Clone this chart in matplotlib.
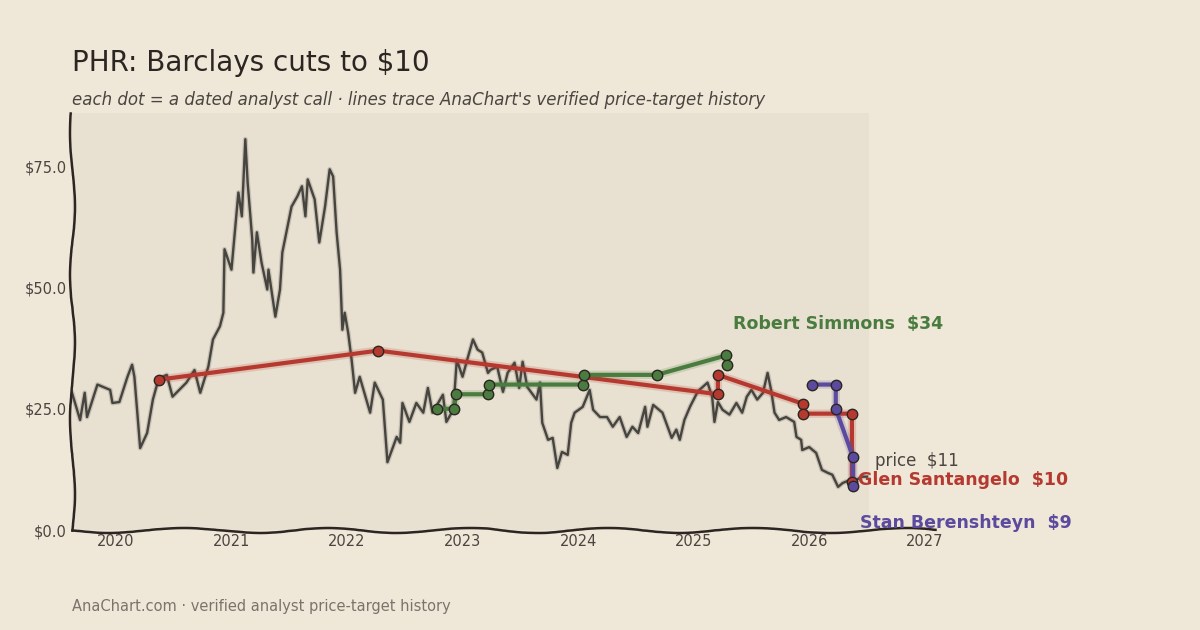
import matplotlib
matplotlib.use("Agg")
import matplotlib.pyplot as plt
import matplotlib.patheffects as pe

# share price (decimal year, $)
price_dates = [
    2019.62, 2019.69, 2019.73, 2019.75, 2019.84, 2019.95, 2019.97, 2020.03, 2020.10, 2020.14,
    2020.16, 2020.21, 2020.27, 2020.32, 2020.37, 2020.44, 2020.49, 2020.61, 2020.68, 2020.73,
    2020.80, 2020.84, 2020.90, 2020.93, 2020.94, 2021.00, 2021.06, 2021.09, 2021.12, 2021.14,
    2021.18, 2021.19, 2021.22, 2021.26, 2021.31, 2021.32, 2021.38, 2021.42, 2021.44, 2021.52,
    2021.57, 2021.61, 2021.64, 2021.66, 2021.72, 2021.76, 2021.81, 2021.85, 2021.88, 2021.91,
    2021.94, 2021.96, 2021.98, 2022.01, 2022.04, 2022.07, 2022.11, 2022.20, 2022.24, 2022.31,
    2022.35, 2022.43, 2022.46, 2022.48, 2022.54, 2022.60, 2022.66, 2022.70, 2022.74, 2022.83,
    2022.86, 2022.92, 2022.95, 2023.00, 2023.04, 2023.09, 2023.13, 2023.17, 2023.22, 2023.24,
    2023.30, 2023.35, 2023.39, 2023.45, 2023.49, 2023.52, 2023.56, 2023.64, 2023.67, 2023.69,
    2023.74, 2023.78, 2023.82, 2023.86, 2023.91, 2023.94, 2023.97, 2024.04, 2024.10, 2024.13,
    2024.19, 2024.25, 2024.30, 2024.36, 2024.42, 2024.47, 2024.52, 2024.58, 2024.60, 2024.65,
    2024.73, 2024.81, 2024.85, 2024.88, 2024.92, 2024.97, 2025.03, 2025.05, 2025.12, 2025.16,
    2025.18, 2025.21, 2025.25, 2025.31, 2025.37, 2025.42, 2025.46, 2025.50, 2025.55, 2025.60,
    2025.64, 2025.67, 2025.70, 2025.74, 2025.80, 2025.87, 2025.89, 2025.93, 2025.94, 2026.00,
    2026.06, 2026.11, 2026.16, 2026.20, 2026.25, 2026.29, 2026.35, 2026.41, 2026.45, 2026.50,
]
price_values = [
    28.3, 22.7, 28.3, 23.3, 30.0, 28.9, 26.2, 26.4, 31.6, 34.1,
    31.6, 16.9, 20.0, 26.9, 31.2, 32.0, 27.5, 30.4, 33.0, 28.3,
    33.7, 39.3, 42.0, 44.8, 57.9, 53.7, 69.6, 64.7, 80.6, 71.7,
    59.9, 53.1, 61.4, 55.2, 49.6, 53.7, 44.0, 49.6, 57.2, 66.7,
    68.8, 70.9, 64.7, 72.3, 68.2, 59.3, 66.7, 74.4, 72.9, 61.4,
    53.7, 41.3, 44.8, 40.7, 35.1, 28.3, 31.6, 24.2, 30.4, 26.9,
    14.0, 19.2, 18.0, 26.2, 22.3, 26.2, 24.2, 29.3, 24.2, 27.9,
    22.3, 24.8, 35.1, 31.6, 35.1, 39.3, 37.2, 36.6, 32.4, 33.0,
    33.7, 28.5, 32.4, 34.5, 29.3, 34.7, 29.5, 26.9, 30.4, 22.1,
    18.6, 19.0, 12.8, 16.1, 15.5, 22.1, 24.2, 25.4, 28.9, 24.8,
    23.3, 23.3, 21.3, 23.3, 19.2, 21.3, 20.0, 25.4, 21.3, 25.8,
    24.2, 19.0, 20.7, 18.6, 22.7, 25.5, 28.3, 28.9, 30.4, 27.5,
    22.3, 26.4, 24.8, 23.8, 26.2, 24.2, 27.5, 28.9, 26.9, 28.3,
    32.4, 28.9, 24.2, 22.7, 23.3, 22.3, 19.2, 18.6, 16.5, 17.1,
    15.9, 12.4, 11.8, 11.4, 8.9, 9.7, 10.3, 10.3, 11.0, 11.0,
]

# analyst price-target histories
glen_dates = [2020.37, 2022.27, 2025.21, 2025.21, 2025.95, 2025.95, 2026.37, 2026.37]
glen_targets = [31, 37, 28, 32, 26, 24, 24, 10]

robert_dates = [2022.78, 2022.93, 2022.94, 2023.22, 2023.23, 2024.04, 2024.05, 2024.68, 2025.28, 2025.29]
robert_targets = [25, 25, 28, 28, 30, 30, 32, 32, 36, 34]

stan_dates = [2026.02, 2026.23, 2026.23, 2026.38, 2026.38]
stan_targets = [30, 30, 25, 15, 9]

BG = "#efe7d7"
PANEL = "#e8e0d0"
INK = "#2b2622"
GREY = "#4a4540"
RED = "#b5392f"
GREEN = "#4a7c3f"
PURPLE = "#5b4a9e"

fig = plt.figure(figsize=(12, 6.3), dpi=100, facecolor=BG)
ax = fig.add_axes([0.06, 0.1587, 0.719, 0.6619])
ax.set_facecolor(BG)

ax.set_xlim(2019.62, 2027.087)
ax.set_ylim(0, 86)
ax.axvspan(2019.62, price_dates[-1] + 0.02, color=PANEL, zorder=0, lw=0)

ax.plot(price_dates, price_values, color="#46443f", lw=1.7, zorder=2,
        path_effects=[pe.Stroke(linewidth=3.5, foreground="#46443f", alpha=0.2), pe.Normal()])

series = [
    (glen_dates, glen_targets, RED),
    (robert_dates, robert_targets, GREEN),
    (stan_dates, stan_targets, PURPLE),
]
for d, t, c in series:
    ax.plot(d, t, color=c, lw=3, zorder=3, solid_capstyle="round",
            path_effects=[pe.Stroke(linewidth=6, foreground=c, alpha=0.18), pe.Normal()])
    ax.plot(d, t, "o", color=c, ms=7.5, mec=INK, mew=1, zorder=4)

# end labels
ax.annotate("Robert Simmons  $34", xy=(robert_dates[-1], 42.4), xytext=(4, 0),
            textcoords="offset points", va="center", ha="left", color=GREEN,
            fontsize=12.5, fontweight="bold", annotation_clip=False)
ax.annotate("price  $11", xy=(price_dates[-1], 14.3), xytext=(6, 0),
            textcoords="offset points", va="center", ha="left", color=GREY,
            fontsize=12, annotation_clip=False)
ax.annotate("Glen Santangelo  $10", xy=(glen_dates[-1], 10.3), xytext=(4, 0),
            textcoords="offset points", va="center", ha="left", color=RED,
            fontsize=12.5, fontweight="bold", annotation_clip=False)
ax.annotate("Stan Berenshteyn  $9", xy=(stan_dates[-1], 1.4), xytext=(5, 0),
            textcoords="offset points", va="center", ha="left", color=PURPLE,
            fontsize=12.5, fontweight="bold", annotation_clip=False)

ax.set_xticks(range(2020, 2028))
ax.set_xticklabels([str(y) for y in range(2020, 2028)])
ax.set_yticks([0, 25, 50, 75])
ax.set_yticklabels(["$0.0", "$25.0", "$50.0", "$75.0"])
ax.tick_params(length=0, labelsize=10.5, colors=GREY)
ax.tick_params(axis="y", pad=4)
ax.tick_params(axis="x", pad=3)

for side in ["top", "right"]:
    ax.spines[side].set_visible(False)
for side in ["left", "bottom"]:
    ax.spines[side].set_color(INK)
    ax.spines[side].set_linewidth(1.8)
    ax.spines[side].set_sketch_params(scale=2.5, length=160, randomness=2)

fig.text(0.06, 0.90, "PHR: Barclays cuts to $10", fontsize=20, color=INK, va="center")
fig.text(0.06, 0.842, "each dot = a dated analyst call \u00b7 lines trace AnaChart's verified price-target history",
         fontsize=12, style="italic", color=GREY, va="center")
fig.text(0.06, 0.038, "AnaChart.com \u00b7 verified analyst price-target history",
         fontsize=10.5, color="#7a746c", va="center")

fig.savefig("out.png", dpi=100, facecolor=BG)
